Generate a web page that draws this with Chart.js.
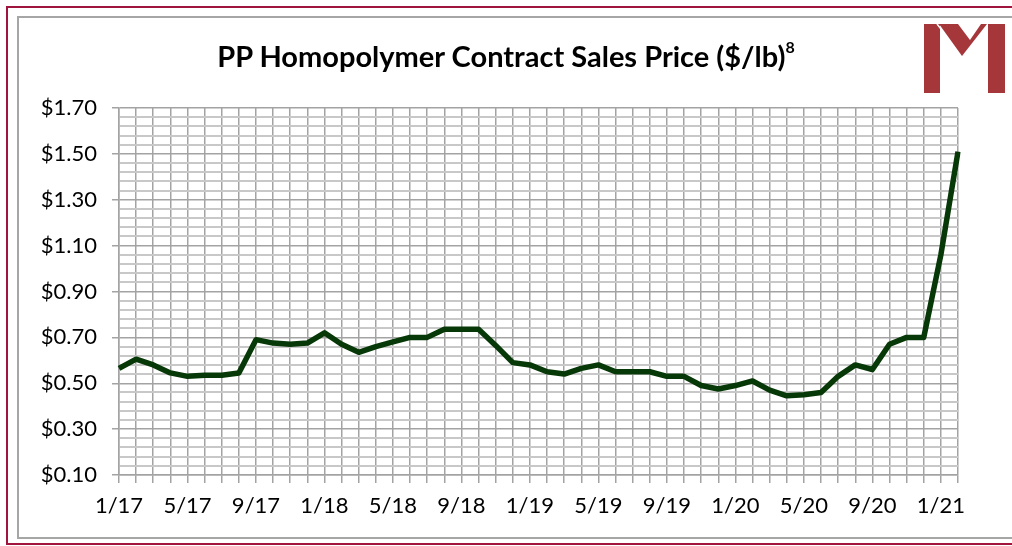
<!DOCTYPE html>
<html>
<head>
<meta charset="utf-8">
<script src="https://cdn.jsdelivr.net/npm/chart.js@4"></script>
<style>
  html, body { margin: 0; padding: 0; background: #fff; }
  #wrap { position: relative; width: 1012px; height: 546px; overflow: hidden; }
  #outer { position: absolute; left: 6px; top: 6px; width: 1100px; height: 535px; border: 2px solid #a0153e; }
  #inner { position: absolute; left: 17px; top: 16px; width: 1100px; height: 519px; border: 2px solid #a6a6a6; }
  #title { position: absolute; left: 0; width: 1012px; top: 38px; text-align: center;
           font-family: Lato, "Open Sans", sans-serif; font-weight: bold; font-size: 29px; color: #000; }
  #title sup { font-size: 16px; position: relative; top: -3px; }
  #logo { position: absolute; left: 924px; top: 24px; }
  canvas { position: absolute; left: 0; top: 0; }
</style>
</head>
<body>
<div id="wrap">
  <div id="outer"></div>
  <div id="inner"></div>
  <canvas id="price-chart" width="1012" height="546"></canvas>
  <div id="title">PP Homopolymer Contract Sales Price ($/lb)<sup>8</sup></div>
  <svg id="logo" width="81" height="69" viewBox="0 0 81 69">
    <rect x="0" y="0" width="16" height="69" fill="#a5373b"/>
    <rect x="64" y="0" width="17" height="69" fill="#a5373b"/>
    <polygon points="15,0 34,0 46,16 57,0 63,0 38,32" fill="#a5373b"/>
    <line x1="13" y1="0" x2="17" y2="5" stroke="#fff" stroke-width="1.5"/>
  </svg>
</div>
<script>
const months = [
  "1/17", "2/17", "3/17", "4/17", "5/17", "6/17", "7/17", "8/17", "9/17", "10/17", "11/17", "12/17",
  "1/18", "2/18", "3/18", "4/18", "5/18", "6/18", "7/18", "8/18", "9/18", "10/18", "11/18", "12/18",
  "1/19", "2/19", "3/19", "4/19", "5/19", "6/19", "7/19", "8/19", "9/19", "10/19", "11/19", "12/19",
  "1/20", "2/20", "3/20", "4/20", "5/20", "6/20", "7/20", "8/20", "9/20", "10/20", "11/20", "12/20",
  "1/21", "2/21"
];

const prices = [
  0.565, 0.605, 0.58, 0.545, 0.53, 0.535, 0.535, 0.545, 0.69, 0.675, 0.67, 0.675,
  0.72, 0.67, 0.635, 0.66, 0.68, 0.70, 0.70, 0.735, 0.735, 0.735, 0.665, 0.59,
  0.58, 0.55, 0.54, 0.565, 0.58, 0.55, 0.55, 0.55, 0.53, 0.53, 0.49, 0.475,
  0.49, 0.51, 0.47, 0.445, 0.45, 0.46, 0.53, 0.58, 0.56, 0.67, 0.70, 0.70,
  1.06, 1.51
];

const yMin = 0.1;
const yMax = 1.7;
const yMinorStep = 0.04;
const yMajorEvery = 5;
const xLabelEvery = 4;

const tickFont = { family: "Lato, 'Open Sans', sans-serif", size: 22 };

function isMajor(index) {
  return index % yMajorEvery === 0;
}

const ctx = document.getElementById("price-chart").getContext("2d");

new Chart(ctx, {
  type: "line",
  data: {
    labels: months,
    datasets: [
      {
        label: "PP Homopolymer",
        data: prices,
        borderColor: "#073807",
        borderWidth: 5.5,
        pointRadius: 0,
        tension: 0,
        borderJoinStyle: "round",
      },
    ],
  },
  options: {
    responsive: false,
    animation: false,
    layout: { padding: { left: 0, right: 54, top: 108, bottom: 0 } },
    plugins: {
      legend: { display: false },
      tooltip: { enabled: false },
    },
    scales: {
      x: {
        offset: false,
        grid: { color: "#a3a3a3", lineWidth: 1.5, tickLength: 8, tickColor: "#a3a3a3" },
        border: { color: "#a3a3a3", width: 1.5 },
        ticks: {
          autoSkip: false,
          maxRotation: 0,
          minRotation: 0,
          padding: 10,
          color: "#000",
          font: tickFont,
          callback: function (value, index) {
            return index % xLabelEvery === 0 ? this.getLabelForValue(value) : "";
          },
        },
        afterFit: (scale) => { scale.height = 71; },
      },
      y: {
        min: yMin,
        max: yMax,
        grid: {
          color: (c) => (isMajor(c.index) ? "#a3a3a3" : "#c8c8c8"),
          lineWidth: (c) => (isMajor(c.index) ? 1.5 : 2),
          tickLength: 7,
          tickColor: (c) => (isMajor(c.index) ? "#a3a3a3" : "rgba(0,0,0,0)"),
        },
        border: { color: "#a3a3a3", width: 1.5 },
        ticks: {
          stepSize: yMinorStep,
          maxTicksLimit: 100,
          autoSkip: false,
          padding: 15,
          color: "#000",
          font: tickFont,
          callback: (value, index) => (isMajor(index) ? "$" + value.toFixed(2) : ""),
        },
        afterFit: (scale) => { scale.width = 119; },
      },
    },
  },
});
</script>
</body>
</html>
